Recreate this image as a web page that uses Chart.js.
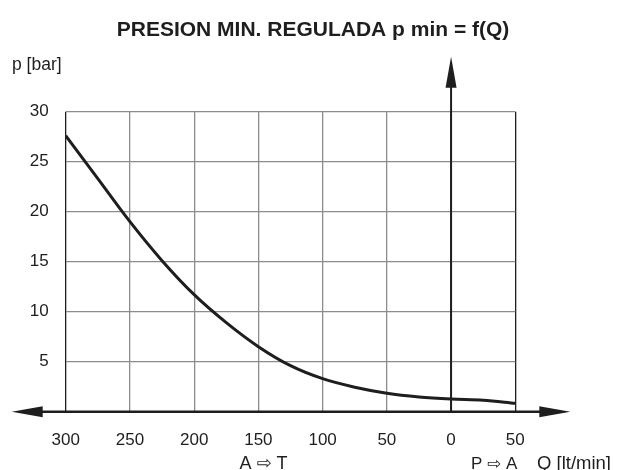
<!DOCTYPE html>
<html>
<head>
<meta charset="utf-8">
<script src="https://cdn.jsdelivr.net/npm/chart.js@4.4.1/dist/chart.umd.min.js"></script>
<style>
  html, body { margin: 0; padding: 0; background: #fff; }
  #wrap { width: 626px; height: 470px; }
</style>
</head>
<body>
<div id="wrap"><canvas id="myChart" width="626" height="470"></canvas></div>
<script>
// Q [lt/min]: negative = A -> T, positive = P -> A
const flowValues = [-300, -275, -250, -225, -200, -175, -150, -125, -100, -75, -50, -25, 0, 25, 50];
const pressureValues = [27.6, 23.3, 19.0, 15.1, 11.7, 8.9, 6.5, 4.6, 3.3, 2.45, 1.85, 1.48, 1.27, 1.15, 0.84];
const xTicks = [-300, -250, -200, -150, -100, -50, 0, 50];
const yTicks = [5, 10, 15, 20, 25, 30];

const FONT = "'Liberation Sans', Arial, 'DejaVu Sans', sans-serif";
const INK = "#1f1d1d";

Chart.defaults.font.family = FONT;
Chart.defaults.color = INK;

const ctx = document.getElementById('myChart');

// axes with arrow heads + free texts
const axisArrows = {
	id: 'axisArrows',
	afterDraw(chart) {
		const { ctx, chartArea: area, scales: { x, y } } = chart;
		const y0 = y.getPixelForValue(0);
		const x0 = x.getPixelForValue(0);
		ctx.save();
		ctx.strokeStyle = INK;
		ctx.fillStyle = INK;

		// horizontal axis
		ctx.lineWidth = 2.4;
		ctx.beginPath();
		ctx.moveTo(area.left - 30, y0);
		ctx.lineTo(area.right + 30, y0);
		ctx.stroke();
		ctx.beginPath();
		ctx.moveTo(area.left - 54, y0);
		ctx.lineTo(area.left - 23, y0 - 5.5);
		ctx.lineTo(area.left - 23, y0 + 5.5);
		ctx.closePath();
		ctx.fill();
		ctx.beginPath();
		ctx.moveTo(area.right + 55, y0);
		ctx.lineTo(area.right + 24, y0 - 5.5);
		ctx.lineTo(area.right + 24, y0 + 5.5);
		ctx.closePath();
		ctx.fill();

		// vertical axis at Q = 0
		ctx.lineWidth = 2;
		ctx.beginPath();
		ctx.moveTo(x0, y0);
		ctx.lineTo(x0, area.top - 30);
		ctx.stroke();
		ctx.beginPath();
		ctx.moveTo(x0, area.top - 55);
		ctx.lineTo(x0 - 5.5, area.top - 24);
		ctx.lineTo(x0 + 5.5, area.top - 24);
		ctx.closePath();
		ctx.fill();

		// texts
		ctx.textBaseline = 'alphabetic';
		ctx.textAlign = 'left';
		ctx.font = "17.5px " + FONT;
		ctx.fillText('p [bar]', 12, 70);
		ctx.textAlign = 'center';
		ctx.font = "18px " + FONT;
		ctx.fillText('A \u21E8 T', x.getPixelForValue(-146), 469);
		ctx.textAlign = 'left';
		ctx.font = "17px " + FONT;
		ctx.fillText('P \u21E8 A', 471, 469);
		ctx.font = "18.5px " + FONT;
		ctx.fillText('Q [lt/min]', 537, 469);
		ctx.restore();
	}
};

new Chart(ctx, {
	type: 'line',
	data: {
		datasets: [{
			data: flowValues.map((q, i) => ({ x: q, y: pressureValues[i] })),
			borderColor: INK,
			borderWidth: 3,
			pointRadius: 0,
			cubicInterpolationMode: 'monotone',
			fill: false
		}]
	},
	options: {
		responsive: false,
		animation: false,
		layout: {
			padding: 0
		},
		plugins: {
			legend: { display: false },
			tooltip: { enabled: false },
			title: {
				display: true,
				text: 'PRESION MIN. REGULADA p min = f(Q)',
				color: INK,
				font: { size: 21, weight: 'bold', family: FONT, lineHeight: 1.2 },
				padding: { top: 17.4, bottom: 69.1 }
			}
		},
		scales: {
			x: {
				type: 'linear',
				min: -300,
				max: 50,
				afterBuildTicks: s => { s.ticks = xTicks.map(v => ({ value: v })); },
				afterFit: s => { s.height = 58.3; },
				border: { display: false },
				grid: {
					drawTicks: false,
					lineWidth: 1.3,
					color: c => (c.tick && (c.tick.value === -300 || c.tick.value === 50)) ? INK : '#8c8c8c'
				},
				ticks: {
					padding: 18,
					font: { size: 17 },
					color: INK,
					maxRotation: 0,
					callback: v => Math.abs(v)
				}
			},
			y: {
				min: 0,
				max: 30,
				afterBuildTicks: s => { s.ticks = [0].concat(yTicks).map(v => ({ value: v })); },
				afterFit: s => { s.width = 65.7; },
				border: { display: false },
				grid: {
					drawTicks: false,
					lineWidth: 1.3,
					color: '#8c8c8c'
				},
				ticks: {
					padding: 17,
					font: { size: 17 },
					color: INK,
					callback: v => v === 0 ? '' : v
				}
			},
			// empty right-hand space, so the title stays centred on the canvas
			yRight: {
				position: 'right',
				min: 0,
				max: 30,
				afterFit: s => { s.width = 110.7; },
				border: { display: false },
				grid: { display: false },
				ticks: { display: false }
			}
		}
	},
	plugins: [axisArrows]
});
</script>
</body>
</html>
